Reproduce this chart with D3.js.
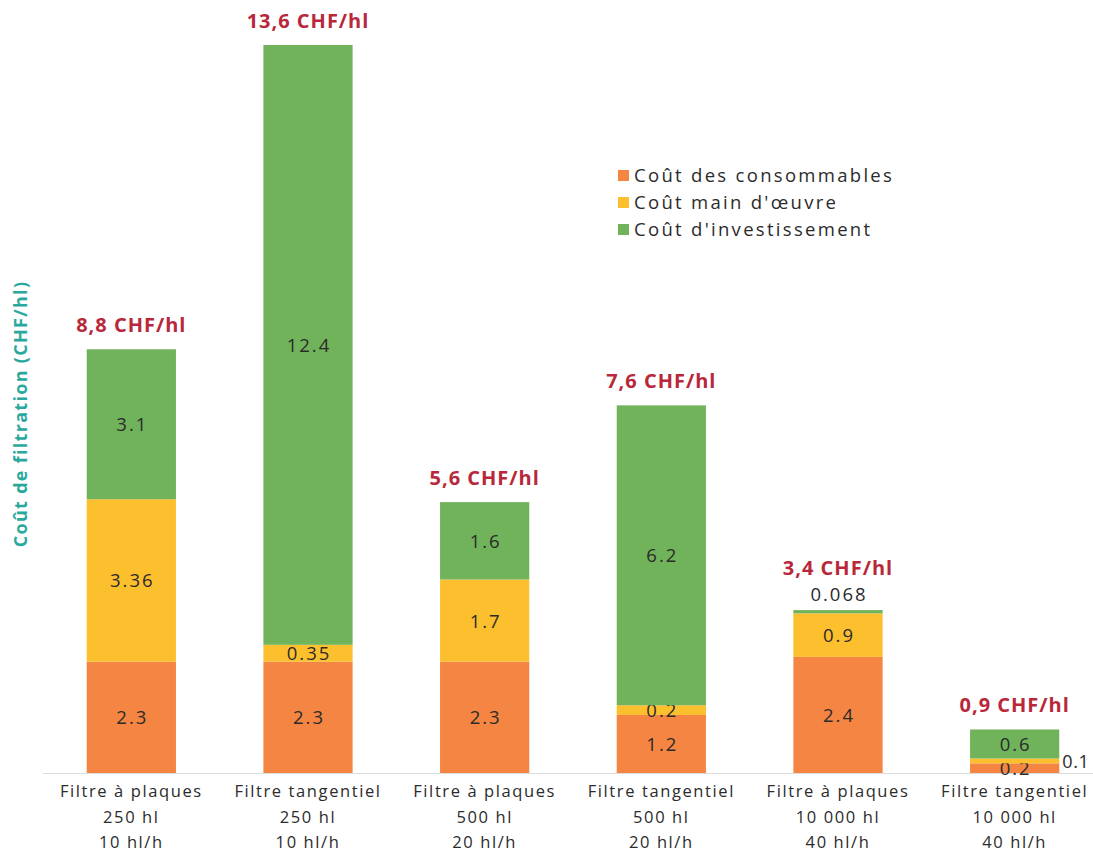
<!DOCTYPE html>
<html>
<head>
<meta charset="utf-8">
<script src="https://cdn.jsdelivr.net/npm/d3@7"></script>
<style>
  body { margin: 0; background: #fff; }
  svg text { font-family: "Open Sans", Lato, sans-serif; }
</style>
</head>
<body>
<div id="chart"></div>
<script>
// ---------- data ----------
var categories = [
  ["Filtre à plaques", "250 hl", "10 hl/h"],
  ["Filtre tangentiel", "250 hl", "10 hl/h"],
  ["Filtre à plaques", "500 hl", "20 hl/h"],
  ["Filtre tangentiel", "500 hl", "20 hl/h"],
  ["Filtre à plaques", "10 000 hl", "40 hl/h"],
  ["Filtre tangentiel", "10 000 hl", "40 hl/h"]
];
var consommables = [2.3, 2.3, 2.3, 1.2, 2.4, 0.2];
var mainOeuvre = [3.36, 0.35, 1.7, 0.2, 0.9, 0.1];
var investissement = [3.1, 12.4, 1.6, 6.2, 0.068, 0.6];
var totalLabels = ["8,8 CHF/hl", "13,6 CHF/hl", "5,6 CHF/hl", "7,6 CHF/hl", "3,4 CHF/hl", "0,9 CHF/hl"];
var seriesNames = ["Coût des consommables", "Coût main d'œuvre", "Coût d'investissement"];
var seriesColors = ["#f48542", "#fcbf2e", "#70b35a"];

// ---------- layout ----------
var svgWidth = 1093, svgHeight = 852;
var baseY = 773;

var svg = d3.select("#chart").append("svg")
  .attr("width", svgWidth)
  .attr("height", svgHeight);

var rows = categories.map(function(c, i) {
  return { i: i, vals: [consommables[i], mainOeuvre[i], investissement[i]] };
});

var x = d3.scaleBand()
  .domain(d3.range(categories.length))
  .range([43, 1103])
  .paddingInner(0.495)
  .paddingOuter(0.2475);

var yMax = d3.max(rows, function(r) { return d3.sum(r.vals); });
var y = d3.scaleLinear()
  .domain([0, yMax])
  .range([baseY, 45]);

// baseline
svg.append("line")
  .attr("x1", 43).attr("x2", svgWidth)
  .attr("y1", baseY + 0.5).attr("y2", baseY + 0.5)
  .attr("stroke", "#dcdcdc")
  .attr("stroke-width", 1);

// stacked segments
rows.forEach(function(r) {
  var g = svg.append("g");
  var acc = 0;
  var bx = x(r.i), bw = x.bandwidth();
  var outsideTop = false;
  r.vals.forEach(function(v, k) {
    var y0 = y(acc), y1 = y(acc + v);
    g.append("rect")
      .attr("x", bx).attr("width", bw)
      .attr("y", y1).attr("height", y0 - y1)
      .attr("fill", seriesColors[k]);

    var h = y0 - y1;
    var lbl = g.append("text")
      .attr("fill", "#2b2b2b")
      .style("font-size", "18.5px")
      .style("letter-spacing", "2px")
      .text(String(v));
    if (h >= 8) {
      lbl.attr("x", bx + bw / 2 + 1).attr("y", (y0 + y1) / 2 + 7).attr("text-anchor", "middle");
    } else if (k === r.vals.length - 1) {
      // tiny top segment: label sits above the bar
      lbl.attr("x", bx + bw / 2 + 1).attr("y", y1 - 9).attr("text-anchor", "middle");
      outsideTop = true;
    } else {
      // tiny middle segment: label to the right
      lbl.attr("x", bx + bw + 3).attr("y", (y0 + y1) / 2 + 7)
        .attr("text-anchor", "start")
        .style("font-size", "18px")
        .style("letter-spacing", "0.6px");
    }
    acc += v;
  });

  svg.append("text")
    .attr("x", bx + bw / 2)
    .attr("y", y(acc) - (outsideTop ? 35 : 17))
    .attr("text-anchor", "middle")
    .attr("fill", "#b9283a")
    .style("font-size", "20px")
    .style("font-weight", "bold")
    .style("letter-spacing", "1px")
    .text(totalLabels[r.i]);
});

// category labels
var catGroup = svg.append("g");
categories.forEach(function(lines, i) {
  lines.forEach(function(t, j) {
    catGroup.append("text")
      .attr("x", x(i) + x.bandwidth() / 2)
      .attr("y", 797 + j * 25.5)
      .attr("text-anchor", "middle")
      .attr("fill", "#2b2b2b")
      .style("font-size", "16.5px")
      .style("letter-spacing", "1.6px")
      .text(t);
  });
});

// y axis title
svg.append("text")
  .attr("transform", "translate(27, 414) rotate(-90)")
  .attr("text-anchor", "middle")
  .attr("fill", "#2aa89e")
  .style("font-size", "18px")
  .style("font-weight", "bold")
  .style("letter-spacing", "1.3px")
  .text("Coût de filtration (CHF/hl)");

// legend
var legend = svg.append("g").attr("transform", "translate(618, 170)");
seriesNames.forEach(function(name, k) {
  var row = legend.append("g").attr("transform", "translate(0," + (k * 27) + ")");
  row.append("rect")
    .attr("width", 11).attr("height", 11)
    .attr("fill", seriesColors[k]);
  row.append("text")
    .attr("x", 16).attr("y", 12)
    .attr("fill", "#2b2b2b")
    .style("font-size", "18.5px")
    .style("letter-spacing", "2.3px")
    .text(name);
});
</script>
</body>
</html>
